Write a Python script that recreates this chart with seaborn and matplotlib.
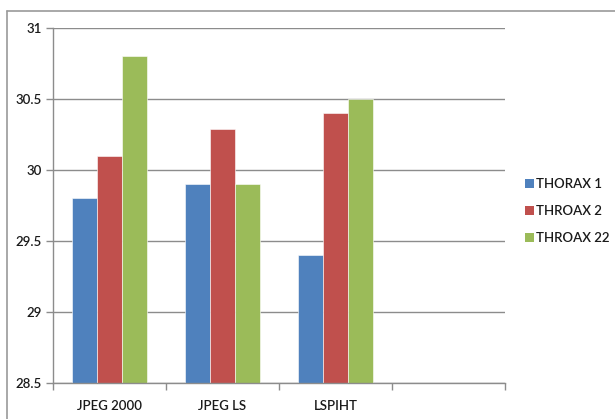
import matplotlib
matplotlib.use("Agg")
import matplotlib.pyplot as plt
import seaborn as sns
import pandas as pd
from matplotlib.lines import Line2D
from matplotlib.patches import Patch

# Compression methods and PSNR-style scores per dataset
categories = ["JPEG 2000", "JPEG LS", "LSPIHT"]
series_names = ["THORAX 1", "THROAX 2", "THROAX 22"]
thorax_1 = [29.8, 29.9, 29.4]
throax_2 = [30.1, 30.29, 30.4]
throax_22 = [30.8, 29.9, 30.5]
y_ticks = [28.5, 29, 29.5, 30, 30.5, 31]

colors = ["#4F81BD", "#C0504D", "#9BBB59"]

rows = []
for name, vals in zip(series_names, [thorax_1, throax_2, throax_22]):
    for cat, v in zip(categories, vals):
        rows.append({"method": cat, "series": name, "value": v})
df = pd.DataFrame(rows)

sns.set_style("white")
plt.rcParams["font.family"] = ["Lato", "DejaVu Sans"]

fig = plt.figure(figsize=(6.15, 4.19), dpi=100)
ax = fig.add_axes([53 / 615, 1 - 383 / 419, (505 - 53) / 615, (383 - 28) / 419])

sns.barplot(data=df, x="method", y="value", hue="series", order=categories,
            hue_order=series_names, palette=colors, saturation=1, width=0.66,
            edgecolor="white", linewidth=0.4, ax=ax, legend=False)

ax.set_xlim(-0.5, 3.5)
ax.set_ylim(28.5, 31)
ax.set_yticks(y_ticks)
ax.set_yticklabels([f"{t:g}" for t in y_ticks])
ax.yaxis.grid(True, color="#8c8c8c", linewidth=1.0)
ax.set_axisbelow(True)
ax.set_xlabel("")
ax.set_ylabel("")

# category labels at centres, tick marks at category boundaries
ax.set_xticks(range(len(categories)))
ax.set_xticklabels(categories)
ax.set_xticks([-0.5, 0.5, 1.5, 2.5, 3.5], minor=True)
ax.tick_params(axis="x", which="major", length=0, pad=12, labelsize=9.5,
               labelcolor="#1a1a1a")
ax.tick_params(axis="x", which="minor", length=5, width=1, color="#8c8c8c",
               direction="out", bottom=True)
ax.tick_params(axis="y", length=5, width=1, color="#8c8c8c", direction="out",
               left=True, pad=3, labelsize=9.5, labelcolor="#1a1a1a")
for lbl in ax.get_xticklabels() + ax.get_yticklabels():
    lbl.set_fontweight("semibold")

for s in ["top", "right"]:
    ax.spines[s].set_visible(False)
for s in ["left", "bottom"]:
    ax.spines[s].set_color("#8c8c8c")
    ax.spines[s].set_linewidth(1.0)

# chart border along top and left
fig.add_artist(Line2D([7 / 615, 1.0], [1 - 11 / 419, 1 - 11 / 419],
                      transform=fig.transFigure, color="#9a9a9a", linewidth=1.2))
fig.add_artist(Line2D([7 / 615, 7 / 615], [0.0, 1 - 11 / 419],
                      transform=fig.transFigure, color="#9a9a9a", linewidth=1.2))

handles = [Patch(facecolor=c, edgecolor="none") for c in colors]
leg = fig.legend(handles, series_names, loc="upper left",
                 bbox_to_anchor=(525 / 615, 1 - 178 / 419), frameon=False,
                 handlelength=0.65, handleheight=0.65, handletextpad=0.15,
                 labelspacing=1.15, fontsize=9.5, borderaxespad=0, borderpad=0)
for t in leg.get_texts():
    t.set_fontweight("semibold")
    t.set_color("#1a1a1a")

fig.savefig("out.png", dpi=100)
